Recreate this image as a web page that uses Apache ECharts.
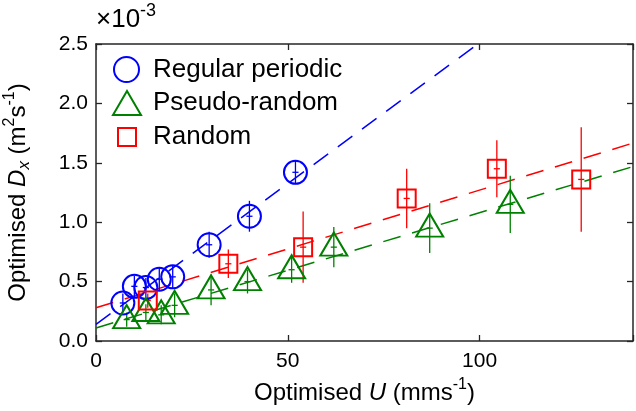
<!DOCTYPE html>
<html>
<head>
<meta charset="utf-8">
<script src="https://cdn.jsdelivr.net/npm/echarts@6/dist/echarts.min.js"></script>
<style>
html,body{margin:0;padding:0;background:#fff;}
#chart{width:636px;height:411px;}
</style>
</head>
<body>
<div id="chart"></div>
<script>
// D_x in units of 1e-3 m^2 s^-1, U in mm s^-1
var periodicU   = [7, 10, 13, 16.5, 20, 29.5, 40, 52];
var periodicD   = [0.32, 0.46, 0.45, 0.52, 0.54, 0.81, 1.05, 1.42];
var periodicErr = [0.08, 0.09, 0.08, 0.10, 0.10, 0.11, 0.13, 0.10];

var pseudoU   = [8, 13, 17, 20.5, 30, 39.5, 51, 62, 87, 108];
var pseudoD   = [0.18, 0.24, 0.22, 0.30, 0.43, 0.50, 0.60, 0.79, 0.95, 1.15];
var pseudoErr = [0.06, 0.07, 0.08, 0.10, 0.13, 0.10, 0.11, 0.17, 0.21, 0.24];

var randomU   = [13.5, 34.5, 54, 81, 104.5, 126.5];
var randomD   = [0.34, 0.65, 0.79, 1.20, 1.45, 1.36];
var randomErr = [0.06, 0.12, 0.30, 0.25, 0.24, 0.44];

var uErr = 0.8;  // small horizontal error bar half width

// linear fits: [intercept, slope]
var periodicFit = [0.14, 0.0237];
var pseudoFit   = [0.11, 0.0097];
var randomFit   = [0.28, 0.0099];

var xTicks = [0, 50, 100];
var yTicks = [0, 0.5, 1.0, 1.5, 2.0, 2.5];
var xMax = 140;

var font = "'Liberation Sans', Arial, sans-serif";
var blue = '#0000ff', green = '#008000', red = '#ff0000', axisCol = '#262626';

var dom = document.getElementById('chart');
var myChart = echarts.init(dom);

function points(us, ds){
    return us.map(function(u, i){ return [u, ds[i]]; });
}
function errData(us, ds, es){
    return us.map(function(u, i){ return [u, ds[i], es[i], uErr]; });
}
function fitLine(fit){
    return [[0, fit[0]], [xMax, fit[0] + fit[1] * xMax]];
}
function errRender(color){
    return function(params, api){
        var x = api.value(0), y = api.value(1), e = api.value(2), xe = api.value(3);
        var t = api.coord([x, y + e]), b = api.coord([x, y - e]);
        var l = api.coord([x - xe, y]), r = api.coord([x + xe, y]);
        var st = {stroke: color, lineWidth: 1.3};
        return {
            type: 'group',
            children: [
                {type: 'line', shape: {x1: t[0], y1: t[1], x2: b[0], y2: b[1]}, style: st},
                {type: 'line', shape: {x1: l[0], y1: l[1], x2: r[0], y2: r[1]}, style: st}
            ]
        };
    };
}

var rich = {
    n:   {fontSize: 24, fontFamily: font, color: '#000'},
    i:   {fontSize: 24, fontFamily: font, fontStyle: 'italic', color: '#000'},
    sub: {fontSize: 17, fontFamily: font, fontStyle: 'italic', color: '#000', padding: [12, 0, 0, 0]},
    sup: {fontSize: 16, fontFamily: font, color: '#000', padding: [0, 0, 16, 0]},
    en:  {fontSize: 26, fontFamily: font, color: '#000'},
    esup:{fontSize: 18, fontFamily: font, color: '#000', padding: [0, 0, 18, 0]}
};

function tickFmt(list, digits){
    return function(v){
        for (var k = 0; k < list.length; k++) {
            if (Math.abs(list[k] - v) < 1e-9) return digits ? v.toFixed(digits) : String(v);
        }
        return '';
    };
}

var axisCommon = {
    axisLine: {show: true, onZero: false, lineStyle: {color: axisCol, width: 1.5}},
    axisTick: {show: true, inside: true, length: 6, lineStyle: {color: axisCol, width: 1.3}},
    splitLine: {show: false}
};

var legendText = {fontSize: 26, fontFamily: font, color: '#000', lineHeight: 26};

option = {
    animation: false,
    backgroundColor: '#fff',
    grid: {left: 96, right: 3, top: 44, bottom: 70, containLabel: false, outerBoundsMode: 'none'},
    legend: [
        {
            data: ['Regular periodic'], orient: 'vertical', left: 113, top: 56, padding: 0,
            icon: 'circle', itemWidth: 25, itemHeight: 25,
            itemStyle: {color: 'transparent', borderColor: blue, borderWidth: 2},
            textStyle: Object.assign({padding: [0, 0, 0, 9]}, legendText)
        },
        {
            data: ['Pseudo-random'], orient: 'vertical', left: 112, top: 90, padding: 0,
            icon: 'triangle', itemWidth: 28, itemHeight: 24,
            itemStyle: {color: 'transparent', borderColor: green, borderWidth: 2},
            textStyle: Object.assign({padding: [0, 0, 0, 7]}, legendText)
        },
        {
            data: ['Random'], orient: 'vertical', left: 117, top: 124, padding: 0,
            icon: 'rect', itemWidth: 18, itemHeight: 18,
            itemStyle: {color: 'transparent', borderColor: red, borderWidth: 2},
            textStyle: Object.assign({padding: [0, 0, 0, 12]}, legendText)
        }
    ],
    graphic: [{
        type: 'text', left: 96, top: 2,
        style: {text: '{en|×10}{esup|-3}', rich: rich}
    }],
    xAxis: [
        Object.assign({
            type: 'value', position: 'bottom', min: 0, max: xMax, interval: 50,
            name: '{n|Optimised }{i|U}{n| (mms}{sup|-1}{n|)}',
            nameLocation: 'middle', nameGap: 35,
            nameTextStyle: {rich: rich},
            axisLabel: {fontSize: 21, fontFamily: font, color: '#000', margin: 10,
                        formatter: tickFmt(xTicks, 0)}
        }, axisCommon),
        Object.assign({
            type: 'value', position: 'top', min: 0, max: xMax, interval: 50,
            axisLabel: {show: false}
        }, axisCommon)
    ],
    yAxis: [
        Object.assign({
            type: 'value', position: 'left', min: 0, max: 2.5, interval: 0.5,
            name: '{n|Optimised }{i|D}{sub|x}{n| (m}{sup|2}{n|s}{sup|-1}{n|)}',
            nameLocation: 'middle', nameGap: 62, nameRotate: 90,
            nameTextStyle: {rich: rich},
            axisLabel: {fontSize: 21, fontFamily: font, color: '#000', margin: 8,
                        formatter: tickFmt(yTicks, 1)}
        }, axisCommon),
        Object.assign({
            type: 'value', position: 'right', min: 0, max: 2.5, interval: 0.5,
            axisLabel: {show: false}
        }, axisCommon)
    ],
    series: [
        {type: 'line', data: fitLine(periodicFit), symbol: 'none', silent: true, z: 1,
         lineStyle: {color: blue, width: 1.5, type: [18, 12]}},
        {type: 'line', data: fitLine(randomFit), symbol: 'none', silent: true, z: 1,
         lineStyle: {color: red, width: 1.5, type: [18, 12]}},
        {type: 'line', data: fitLine(pseudoFit), symbol: 'none', silent: true, z: 1,
         lineStyle: {color: green, width: 1.5, type: [18, 12]}},

        {type: 'custom', data: errData(periodicU, periodicD, periodicErr), renderItem: errRender(blue),
         encode: {x: 0, y: 1}, z: 2, silent: true},
        {type: 'custom', data: errData(pseudoU, pseudoD, pseudoErr), renderItem: errRender(green),
         encode: {x: 0, y: 1}, z: 2, silent: true},
        {type: 'custom', data: errData(randomU, randomD, randomErr), renderItem: errRender(red),
         encode: {x: 0, y: 1}, z: 2, silent: true},

        {name: 'Regular periodic', type: 'scatter', data: points(periodicU, periodicD), z: 3,
         symbol: 'circle', symbolSize: 23,
         itemStyle: {color: 'transparent', borderColor: blue, borderWidth: 2, opacity: 1}},
        {name: 'Pseudo-random', type: 'scatter', data: points(pseudoU, pseudoD), z: 3,
         symbol: 'triangle', symbolSize: [27, 23], symbolOffset: [0, -3],
         itemStyle: {color: 'transparent', borderColor: green, borderWidth: 2, opacity: 1}},
        {name: 'Random', type: 'scatter', data: points(randomU, randomD), z: 3,
         symbol: 'rect', symbolSize: 18,
         itemStyle: {color: 'transparent', borderColor: red, borderWidth: 2, opacity: 1}}
    ]
};

if (option && typeof option === "object") {
    myChart.setOption(option, true);
}
</script>
</body>
</html>
